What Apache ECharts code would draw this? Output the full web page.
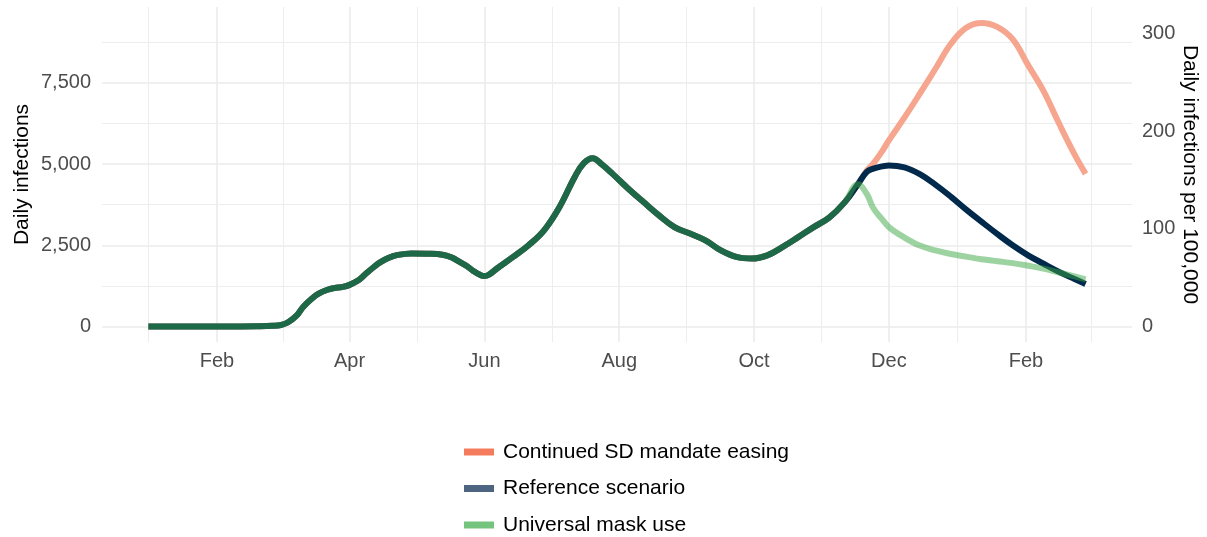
<!DOCTYPE html>
<html><head><meta charset="utf-8">
<script src="https://cdn.jsdelivr.net/npm/echarts@6/dist/echarts.min.js"></script>
<style>html,body{margin:0;padding:0;background:#fff}#c{width:1207px;height:537px}</style>
</head><body><div id="c"></div>
<script>
// ---- data ----
const histDates = ['2020-01-01','2020-01-15','2020-01-29','2020-02-12','2020-02-19','2020-02-26','2020-03-01','2020-03-04','2020-03-08','2020-03-11','2020-03-15','2020-03-18','2020-03-22','2020-03-25','2020-03-29','2020-04-01','2020-04-05','2020-04-08','2020-04-12','2020-04-15','2020-04-19','2020-04-22','2020-04-29','2020-05-06','2020-05-13','2020-05-17','2020-05-20','2020-05-24','2020-05-27','2020-05-30','2020-06-01','2020-06-03','2020-06-07','2020-06-14','2020-06-21','2020-06-28','2020-07-05','2020-07-12','2020-07-16','2020-07-20','2020-07-24','2020-07-29','2020-08-05','2020-08-12','2020-08-19','2020-08-26','2020-09-02','2020-09-09','2020-09-16','2020-09-23','2020-09-30','2020-10-07','2020-10-14','2020-10-21','2020-10-28','2020-11-04','2020-11-11','2020-11-17'];
const histValues = [0,0,0,0,4,18,45,120,330,600,860,1010,1130,1180,1220,1280,1420,1600,1830,1980,2120,2190,2250,2240,2210,2130,2020,1860,1710,1590,1550,1590,1800,2140,2500,2960,3680,4620,5030,5180,5000,4700,4250,3830,3420,3060,2860,2650,2340,2140,2090,2190,2450,2750,3060,3350,3820,4380];
const projDates = ['2020-11-21','2020-11-24','2020-11-28','2020-12-01','2020-12-08','2020-12-15','2020-12-22','2020-12-29','2021-01-05','2021-01-12','2021-01-19','2021-01-26','2021-02-02','2021-02-09','2021-02-16','2021-02-23','2021-02-28'];
const easingValues    = [4800,5020,5400,5730,6430,7170,7930,8700,9200,9350,9230,8850,8050,7250,6250,5300,4700];
const referenceValues = [4760,4860,4930,4960,4900,4690,4370,4000,3600,3220,2850,2500,2190,1930,1680,1460,1310];
const maskValues      = [4080,3640,3300,3060,2740,2490,2340,2230,2150,2070,2010,1950,1870,1780,1660,1540,1450];
const seriesNames = ['Continued SD mandate easing','Reference scenario','Universal mask use'];
const xTickDates = ['2020-02-01','2020-04-01','2020-06-01','2020-08-01','2020-10-01','2020-12-01','2021-02-01'];
const xTickLabels = ['Feb','Apr','Jun','Aug','Oct','Dec','Feb'];
const yTicks = [0,2500,5000,7500];
const yMinorTicks = [1250,3750,6250,8750];
const yRightTicks = [0,100,200,300];
const PER_UNIT = 30.1; // daily infections per 1 "per 100,000" unit

// ---- helpers ----
const ts = s => Date.parse(s + 'T00:00:00Z');
const majorTs = xTickDates.map(ts);
const ext = [ts('2019-12-01')].concat(majorTs, [ts('2021-04-01')]);
const minorTs = [];
for (let i = 0; i < ext.length - 1; i++) minorTs.push((ext[i] + ext[i + 1]) / 2);
const labelMap = {};
majorTs.forEach((t, i) => labelMap[t] = xTickLabels[i]);

const xMin = ts('2019-12-11'), xMax = ts('2021-03-21');
const yMin = -480, yMax = 9840;

function build(projVals) {
  return histDates.map((d, i) => [ts(d), histValues[i]])
    .concat(projDates.map((d, i) => [ts(d), projVals[i]]));
}

const FONT = '"Liberation Sans", Arial, sans-serif';
const plotColors = ['#F6A68F', '#01294B', 'rgba(57,168,67,0.5)'];
const legendColors = ['#F47C5C', '#4D6580', '#74C47E'];
const gridMajor = {show: true, lineStyle: {color: '#EBEBEB', width: 1.6}};
const gridMinor = {show: true, lineStyle: {color: '#EDEDED', width: 1.0}};

const chart = echarts.init(document.getElementById('c'), null, {renderer: 'canvas'});
chart.setOption({
  animation: false,
  backgroundColor: '#fff',
  textStyle: {fontFamily: FONT},
  grid: {left: 102, right: 75, top: 7, bottom: 195, containLabel: false, outerBoundsMode: 'none'},
  xAxis: [
    {type: 'value', min: xMin, max: xMax, gridIndex: 0,
      axisLine: {show: false}, axisTick: {show: false, customValues: minorTs},
      axisLabel: {show: false, customValues: minorTs}, splitLine: gridMinor},
    {type: 'value', min: xMin, max: xMax, gridIndex: 0, position: 'bottom',
      axisLine: {show: false}, axisTick: {show: false, customValues: majorTs},
      axisLabel: {customValues: majorTs, formatter: v => labelMap[v] || '', color: '#4D4D4D',
        fontSize: 20, fontFamily: FONT, margin: 9},
      splitLine: gridMajor}
  ],
  yAxis: [
    {type: 'value', min: yMin, max: yMax, position: 'left',
      axisLine: {show: false}, axisTick: {show: false, customValues: yMinorTicks},
      axisLabel: {show: false, customValues: yMinorTicks}, splitLine: gridMinor},
    {type: 'value', min: yMin, max: yMax, position: 'left',
      axisLine: {show: false}, axisTick: {show: false, customValues: yTicks},
      axisLabel: {customValues: yTicks, formatter: v => v.toLocaleString('en-US'), color: '#4D4D4D',
        fontSize: 20, fontFamily: FONT, margin: 11},
      splitLine: gridMajor,
      name: 'Daily infections', nameLocation: 'middle', nameRotate: 90, nameGap: 69, nameMoveOverlap: false,
      nameTextStyle: {color: '#000', fontSize: 21, fontFamily: FONT}},
    {type: 'value', min: yMin / PER_UNIT, max: yMax / PER_UNIT, position: 'right',
      axisLine: {show: false}, axisTick: {show: false, customValues: yRightTicks},
      axisLabel: {customValues: yRightTicks, color: '#4D4D4D', fontSize: 20, fontFamily: FONT, margin: 10},
      splitLine: {show: false},
      name: 'Daily infections per 100,000', nameLocation: 'middle', nameRotate: -90, nameGap: 47, nameMoveOverlap: false,
      nameTextStyle: {color: '#000', fontSize: 21, fontFamily: FONT}}
  ],
  legend: {
    orient: 'vertical', left: 459, top: 435, height: 140, icon: 'rect', itemWidth: 30, itemHeight: 7, itemGap: 12.5,
    textStyle: {fontSize: 21, color: '#000', fontFamily: FONT, lineHeight: 24, padding: [0, 0, 0, 4]},
    data: seriesNames.map((n, i) => ({name: n, itemStyle: {color: legendColors[i]}}))
  },
  series: [easingValues, referenceValues, maskValues].map((vals, i) => ({
    name: seriesNames[i], type: 'line', xAxisIndex: 1, yAxisIndex: 1,
    data: build(vals), showSymbol: false, symbol: 'none', smooth: 0.4,
    color: legendColors[i],
    lineStyle: {color: plotColors[i], width: 6, join: 'round', cap: 'butt'},
    emphasis: {disabled: true}, silent: true
  }))
});
</script></body></html>
